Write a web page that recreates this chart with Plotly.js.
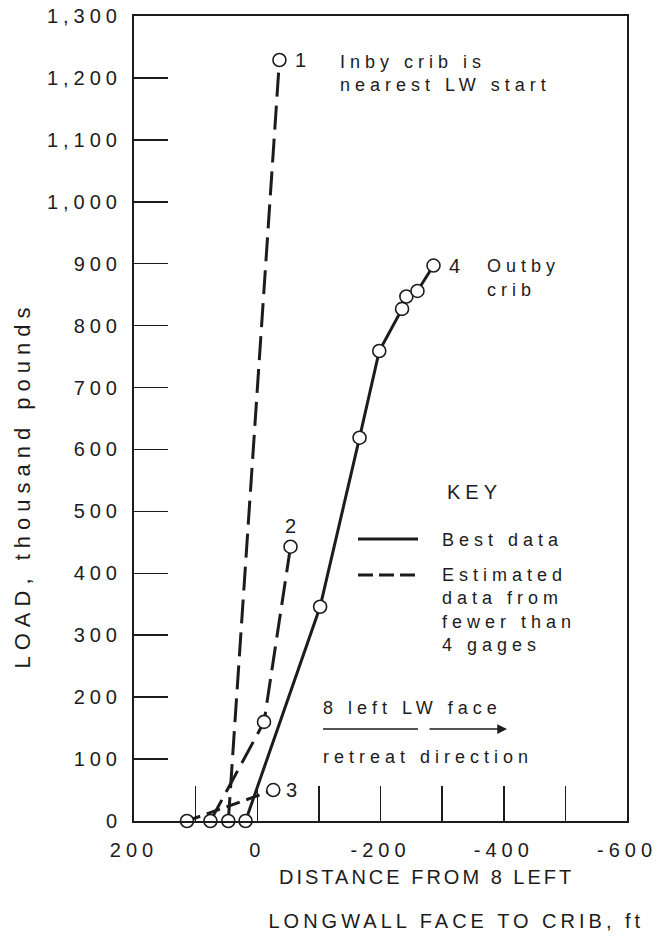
<!DOCTYPE html>
<html>
<head>
<meta charset="utf-8">
<script src="https://cdn.plot.ly/plotly-3.0.1.min.js"></script>
<style>
  html, body { margin: 0; padding: 0; background: #fff; }
  #chart { width: 657px; height: 945px; }
  text { letter-spacing: 5px; }
</style>
</head>
<body>
<div id="chart"></div>
<script>
// ---- data (distance ft, load thousand pounds) ----
const crib1X = [47, -36];
const crib1Y = [0, 1229];
const crib2X = [76, -11, -54];
const crib2Y = [0, 160, 443];
const crib3X = [114, -26];
const crib3Y = [0, 50];
const crib4X = [19, -102, -166, -198, -235, -242, -260, -286];
const crib4Y = [0, 346, 619, 759, 827, 847, 856, 897];
const curveLabels = ['1', '2', '3', '4'];

const xTickVals = [200, 0, -200, -400, -600];
const xTickText = ['200', '0', '-200', '-400', '-600'];
const yTickVals = [0, 100, 200, 300, 400, 500, 600, 700, 800, 900, 1000, 1100, 1200, 1300];
const yTickText = ['0', '100', '200', '300', '400', '500', '600', '700', '800', '900', '1,000', '1,100', '1,200', '1,300'];

// ---- layout helpers ----
const W = 657, H = 945;
const L = 134, R = 627, T = 16, B = 821;
const px = x => (x - L) / (R - L);
const py = y => (B - y) / (B - T);
const INK = '#1c1c1c';
const FONT = 'Liberation Sans, Arial, sans-serif';

function series(x, y, dash) {
  return {
    x: x, y: y, type: 'scatter', mode: 'lines+markers',
    line: { color: INK, width: 3, dash: dash },
    marker: { symbol: 'circle', size: 13, color: '#fff', line: { color: INK, width: 1.6 } },
    cliponaxis: false, showlegend: false, hoverinfo: 'skip'
  };
}

const traces = [
  series(crib1X, crib1Y, '24px,9px'),
  series(crib2X, crib2Y, '24px,9px'),
  series(crib3X, crib3Y, '14px,7px'),
  series(crib4X, crib4Y, 'solid')
];

const ends = [
  [crib1X, crib1Y, 24, 0],
  [crib2X, crib2Y, 2, 21],
  [crib3X, crib3Y, 21, 0],
  [crib4X, crib4Y, 23, 0]
];

const annotations = [];
ends.forEach((e, i) => {
  const n = e[0].length - 1;
  annotations.push({
    x: e[0][n], y: e[1][n], xref: 'x', yref: 'y', text: curveLabels[i],
    showarrow: false, xshift: e[2], yshift: e[3],
    font: { family: FONT, size: 20, color: INK }
  });
});

function note(text, x, y, anchor, size) {
  annotations.push({
    text: text, xref: 'paper', yref: 'paper', x: px(x), y: py(y),
    xanchor: anchor || 'left', yanchor: 'middle', showarrow: false,
    align: anchor === 'center' ? 'center' : 'left',
    font: { family: FONT, size: size || 18, color: INK }
  });
}
note('Inby crib is', 338, 62);
note('nearest LW start', 338, 85);
note('Outby', 485, 266);
note('crib', 485, 290);
note('KEY', 474, 492, 'center', 20);
note('Best data', 440, 540);
note('Estimated', 440, 575);
note('data from', 440, 598);
note('fewer than', 440, 622);
note('4 gages', 440, 645);
note('8 left LW face', 321, 708);
note('retreat direction', 321, 757);
note('DISTANCE FROM 8 LEFT', 426, 877, 'center', 20);
note('LONGWALL FACE TO CRIB, ft', 456, 921, 'center', 20);

// y axis title
annotations.push({
  text: 'LOAD, thousand pounds', xref: 'paper', yref: 'paper',
  x: px(22), y: py(485), xanchor: 'center', yanchor: 'middle',
  textangle: -90, showarrow: false,
  font: { family: FONT, size: 22, color: INK }
});

// retreat arrow
annotations.push({
  xref: 'paper', yref: 'paper', x: px(507), y: py(729),
  ax: -(507 - 428), ay: 0, text: '', showarrow: true,
  arrowhead: 2, arrowsize: 1.3, arrowwidth: 1.5, arrowcolor: INK
});

const shapes = [
  { type: 'line', xref: 'paper', yref: 'paper', x0: px(323), x1: px(418), y0: py(729), y1: py(729),
    line: { color: INK, width: 1.5 } },
  { type: 'line', xref: 'paper', yref: 'paper', x0: px(358), x1: px(418), y0: py(539), y1: py(539),
    line: { color: INK, width: 3 } },
  { type: 'line', xref: 'paper', yref: 'paper', x0: px(358), x1: px(418), y0: py(575), y1: py(575),
    line: { color: INK, width: 3, dash: '15px,6px' } }
];

const axisCommon = {
  showgrid: false, zeroline: false, showline: true, mirror: true,
  linecolor: INK, linewidth: 2, ticks: 'inside', tickcolor: INK, tickwidth: 1.5,
  tickfont: { family: FONT, size: 20, color: INK }, fixedrange: true,
  ticklabeloverflow: 'allow'
};

const layout = {
  width: W, height: H,
  margin: { l: L, r: W - R, t: T, b: H - B },
  paper_bgcolor: '#fff', plot_bgcolor: '#fff',
  showlegend: false,
  xaxis: Object.assign({}, axisCommon, {
    range: [200, -600], tickmode: 'array', tickvals: xTickVals, ticktext: xTickText,
    ticklen: 35, ticklabelstandoff: 10,
    minor: { dtick: 100, ticks: 'inside', ticklen: 35, tickcolor: INK, tickwidth: 1.5 }
  }),
  yaxis: Object.assign({}, axisCommon, {
    range: [0, 1300], tickmode: 'array', tickvals: yTickVals, ticktext: yTickText,
    ticklen: 34, ticklabelstandoff: 6
  }),
  annotations: annotations,
  shapes: shapes
};

Plotly.newPlot('chart', traces, layout, { staticPlot: true, displayModeBar: false }).then(() => {
  document.querySelectorAll('text').forEach(t => {
    const s = t.textContent;
    if (s.indexOf('LOAD') === 0) t.style.letterSpacing = '6px';
    if (s.indexOf('DISTANCE') === 0) t.style.letterSpacing = '3px';
    if (s.indexOf('LONGWALL') === 0) t.style.letterSpacing = '4px';
  });
});
</script>
</body>
</html>
